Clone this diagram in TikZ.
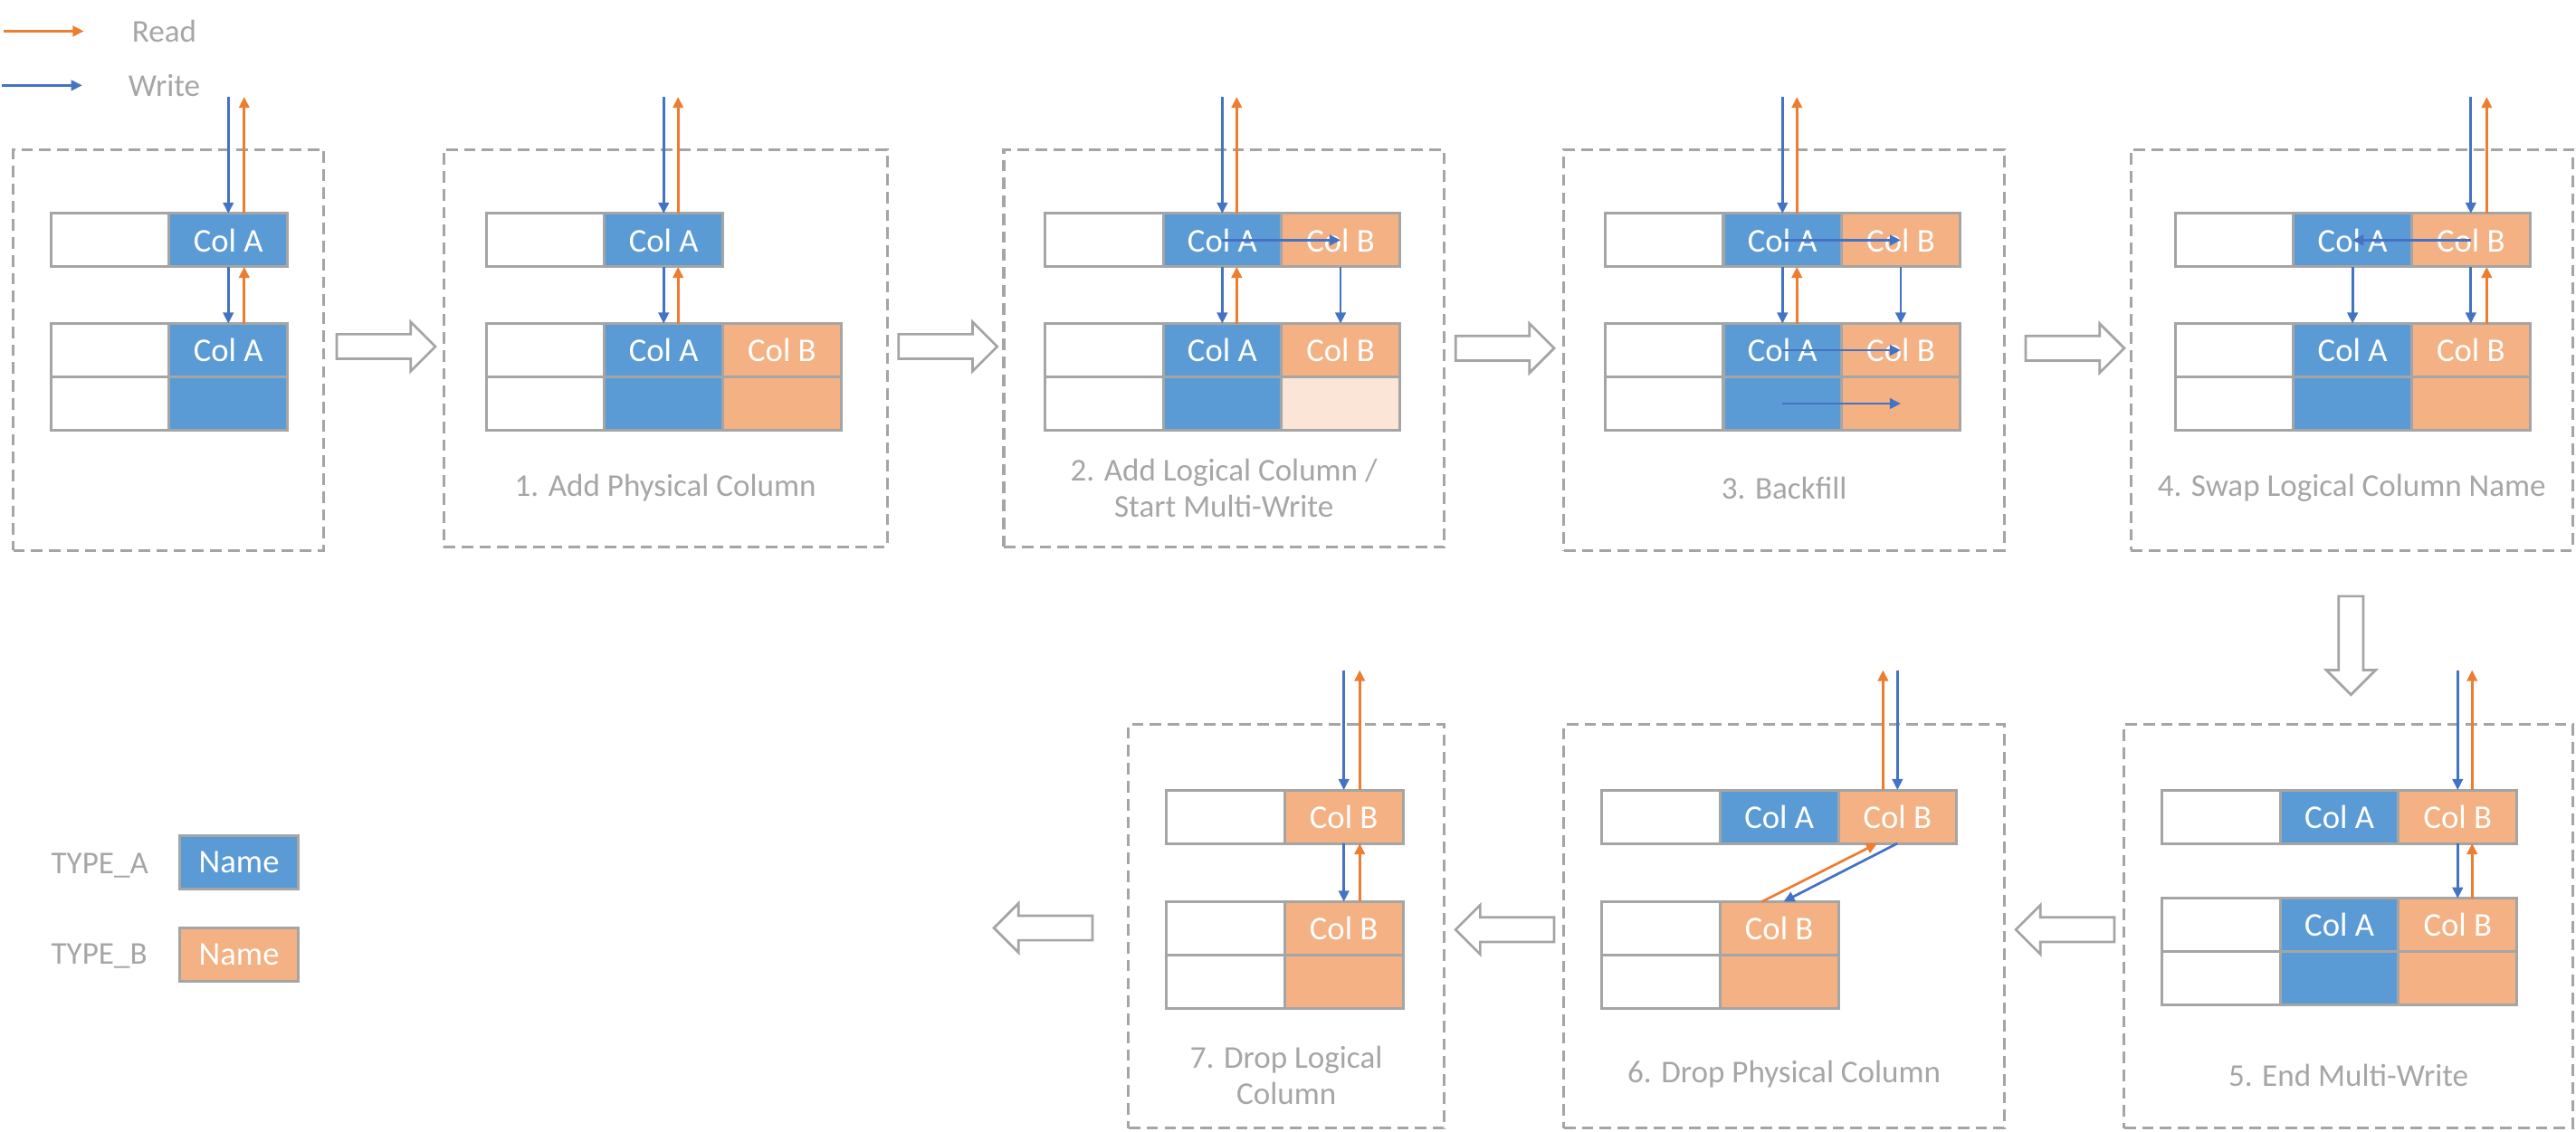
\documentclass[tikz,border=0pt]{standalone}
\usepackage{fontspec}
\setmainfont{Carlito}
\usepackage{tikz}
\usetikzlibrary{positioning, arrows.meta, calc, fit}

\definecolor{colablue}{HTML}{5B9BD5}
\definecolor{colborange}{HTML}{F4B183}
\definecolor{colblight}{HTML}{FBE5D6}
\definecolor{writeblue}{HTML}{4472C4}
\definecolor{readorange}{HTML}{ED7D31}
\definecolor{framegray}{HTML}{A5A5A5}
\definecolor{labelgray}{HTML}{A6A6A6}

\begin{document}
\begin{tikzpicture}[
        x=0.02cm, y=-0.02cm,
        cell/.style={draw=framegray, line width=0.95pt, rectangle, minimum width=1.44cm, minimum height=0.65cm, inner sep=0pt, outer sep=0pt, text=white, font=\fontsize{11.5pt}{13pt}\selectfont},
        keycell/.style={cell, fill=white},
        cola/.style={cell, fill=colablue},
        colb/.style={cell, fill=colborange},
        colbnew/.style={cell, fill=colblight},
        stagebox/.style={draw=framegray, line width=0.95pt, dash pattern=on 4pt off 2.2pt, rectangle, inner sep=0pt},
        steplabel/.style={text=labelgray, align=center, font=\fontsize{11pt}{12.5pt}\selectfont},
        wr/.style={draw=writeblue, line width=0.85pt, -{Triangle[length=3.8pt, width=3.6pt]}},
        rd/.style={draw=readorange, line width=0.85pt, -{Triangle[length=3.8pt, width=3.6pt]}},
        blockarrow/.pic={
            \draw[draw=framegray, line width=0.85pt, fill=white] (-30,-7.5) -- (15,-7.5) -- (15,-15) -- (30,0) -- (15,15) -- (15,7.5) -- (-30,7.5) -- cycle;
        }
    ]
    \useasboundingbox (0,0) rectangle (1568,689);

    % Legende
    \coordinate (rdstart) at (2,19);
    \coordinate (rdend) at (51,19);
    \coordinate (wrstart) at (1,52);
    \coordinate (wrend) at (50,52);
    \draw[rd] (rdstart) -- (rdend);
    \draw[wr] (wrstart) -- (wrend);
    \node[steplabel] (readlbl) at (100,19) {Read};
    \node[steplabel] (writelbl) at (100,52) {Write};

    \node[steplabel, anchor=west] (typea) at (25,527) {TYPE\_A};
    \node[steplabel, anchor=west] (typeb) at (25,582) {TYPE\_B};
    \node[cola] (namea) at (145.5,525) {Name};
    \node[colb] (nameb) at (145.5,581) {Name};

    % Rahmen
    \node[stagebox, fit={(8,91) (197,335)}] (st0) {};
    \node[stagebox, fit={(270,91) (540,333)}] (st1) {};
    \node[stagebox, fit={(611,91) (879,333)}] (st2) {};
    \node[stagebox, fit={(952,91) (1220,335)}] (st3) {};
    \node[stagebox, fit={(1297,91) (1566,335)}] (st4) {};
    \node[stagebox, fit={(1293,441) (1566,687)}] (st5) {};
    \node[stagebox, fit={(952,441) (1220,687)}] (st6) {};
    \node[stagebox, fit={(687,441) (879,687)}] (st7) {};

    % Schritte
    \node[steplabel] (lbl1) at (st1.center |- 0,297) {1. Add Physical Column};
    \node[steplabel] (lbl2) at (st2.center |- 0,297) {2. Add Logical Column /\\Start Multi-Write};
    \node[steplabel] (lbl3) at (st3.center |- 0,297) {3. Backfill};
    \node[steplabel] (lbl4) at (st4.center |- 0,297) {4. Swap Logical Column Name};
    \node[steplabel] (lbl5) at (st5.center |- 0,655) {5. End Multi-Write};
    \node[steplabel] (lbl6) at (st6.center |- 0,654) {6. Drop Physical Column};
    \node[steplabel] (lbl7) at (st7.center |- 0,655) {7. Drop Logical\\Column};

    % Pfeile zwischen den Schritten
    \pic at (235,211) {blockarrow};
    \pic at (577,211) {blockarrow};
    \pic at (916,212) {blockarrow};
    \pic at (1263,212) {blockarrow};
    \pic[rotate=-90] at (1431,393) {blockarrow};
    \pic[rotate=180] at (1257,566) {blockarrow};
    \pic[rotate=180] at (916,566) {blockarrow};
    \pic[rotate=180] at (635,565) {blockarrow};

    % Stufe 0
    \node[keycell, anchor=north west] (s0tk) at (31,130) {};
    \node[cola, right=0pt of s0tk] (s0ta) {Col A};
    \node[keycell, anchor=north west] (s0bk) at (31,197) {};
    \node[cola, right=0pt of s0bk] (s0ba) {Col A};
    \node[keycell, below=0pt of s0bk] (s0rk) {};
    \node[cola, below=0pt of s0ba] (s0ra) {};
    \coordinate[above=1.42cm of s0ta] (s0in);
    \draw[wr] (s0in) -- (s0ta.north);
    \draw[rd] ([xshift=5.5pt]s0ta.north) -- ([xshift=5.5pt]s0in);
    \draw[wr] (s0ta.south) -- (s0ba.north);
    \draw[rd] ([xshift=5.5pt]s0ba.north) -- ([xshift=5.5pt]s0ta.south);

    % Stufe 1
    \node[keycell, anchor=north west] (s1tk) at (296,130) {};
    \node[cola, right=0pt of s1tk] (s1ta) {Col A};
    \node[keycell, anchor=north west] (s1bk) at (296,197) {};
    \node[cola, right=0pt of s1bk] (s1ba) {Col A};
    \node[colb, right=0pt of s1ba] (s1bb) {Col B};
    \node[keycell, below=0pt of s1bk] (s1rk) {};
    \node[cola, below=0pt of s1ba] (s1ra) {};
    \node[colb, below=0pt of s1bb] (s1rb) {};
    \coordinate[above=1.42cm of s1ta] (s1in);
    \draw[wr] (s1in) -- (s1ta.north);
    \draw[rd] ([xshift=5pt]s1ta.north) -- ([xshift=5pt]s1in);
    \draw[wr] (s1ta.south) -- (s1ba.north);
    \draw[rd] ([xshift=5pt]s1ba.north) -- ([xshift=5pt]s1ta.south);

    % Stufe 2
    \node[keycell, anchor=north west] (s2tk) at (636,130) {};
    \node[cola, right=0pt of s2tk] (s2ta) {Col A};
    \node[colb, right=0pt of s2ta] (s2tb) {Col B};
    \node[keycell, anchor=north west] (s2bk) at (636,197) {};
    \node[cola, right=0pt of s2bk] (s2ba) {Col A};
    \node[colb, right=0pt of s2ba] (s2bb) {Col B};
    \node[keycell, below=0pt of s2bk] (s2rk) {};
    \node[cola, below=0pt of s2ba] (s2ra) {};
    \node[colbnew, below=0pt of s2bb] (s2rb) {};
    \coordinate[above=1.42cm of s2ta] (s2in);
    \draw[wr] (s2in) -- (s2ta.north);
    \draw[rd] ([xshift=5pt]s2ta.north) -- ([xshift=5pt]s2in);
    \draw[wr] (s2ta.center) -- (s2tb.center);
    \draw[wr] (s2ta.south) -- (s2ba.north);
    \draw[rd] ([xshift=5pt]s2ba.north) -- ([xshift=5pt]s2ta.south);
    \draw[wr] (s2tb.south) -- (s2bb.north);

    % Stufe 3
    \node[keycell, anchor=north west] (s3tk) at (977,130) {};
    \node[cola, right=0pt of s3tk] (s3ta) {Col A};
    \node[colb, right=0pt of s3ta] (s3tb) {Col B};
    \node[keycell, anchor=north west] (s3bk) at (977,197) {};
    \node[cola, right=0pt of s3bk] (s3ba) {Col A};
    \node[colb, right=0pt of s3ba] (s3bb) {Col B};
    \node[keycell, below=0pt of s3bk] (s3rk) {};
    \node[cola, below=0pt of s3ba] (s3ra) {};
    \node[colb, below=0pt of s3bb] (s3rb) {};
    \coordinate[above=1.42cm of s3ta] (s3in);
    \draw[wr] (s3in) -- (s3ta.north);
    \draw[rd] ([xshift=5pt]s3ta.north) -- ([xshift=5pt]s3in);
    \draw[wr] (s3ta.center) -- (s3tb.center);
    \draw[wr] (s3ba.center) -- (s3bb.center);
    \draw[wr] (s3ra.center) -- (s3rb.center);
    \draw[wr] (s3ta.south) -- (s3ba.north);
    \draw[rd] ([xshift=5pt]s3ba.north) -- ([xshift=5pt]s3ta.south);
    \draw[wr] (s3tb.south) -- (s3bb.north);

    % Stufe 4
    \node[keycell, anchor=north west] (s4tk) at (1324,130) {};
    \node[cola, right=0pt of s4tk] (s4ta) {Col A};
    \node[colb, right=0pt of s4ta] (s4tb) {Col B};
    \node[keycell, anchor=north west] (s4bk) at (1324,197) {};
    \node[cola, right=0pt of s4bk] (s4ba) {Col A};
    \node[colb, right=0pt of s4ba] (s4bb) {Col B};
    \node[keycell, below=0pt of s4bk] (s4rk) {};
    \node[cola, below=0pt of s4ba] (s4ra) {};
    \node[colb, below=0pt of s4bb] (s4rb) {};
    \coordinate[above=1.42cm of s4tb] (s4in);
    \draw[wr] (s4in) -- (s4tb.north);
    \draw[rd] ([xshift=5.5pt]s4tb.north) -- ([xshift=5.5pt]s4in);
    \draw[wr] (s4tb.center) -- (s4ta.center);
    \draw[wr] (s4ta.south) -- (s4ba.north);
    \draw[wr] (s4tb.south) -- (s4bb.north);
    \draw[rd] ([xshift=5.5pt]s4bb.north) -- ([xshift=5.5pt]s4tb.south);

    % Stufe 5
    \node[keycell, anchor=north west] (s5tk) at (1316,481) {};
    \node[cola, right=0pt of s5tk] (s5ta) {Col A};
    \node[colb, right=0pt of s5ta] (s5tb) {Col B};
    \node[keycell, anchor=north west] (s5bk) at (1316,547) {};
    \node[cola, right=0pt of s5bk] (s5ba) {Col A};
    \node[colb, right=0pt of s5ba] (s5bb) {Col B};
    \node[keycell, below=0pt of s5bk] (s5rk) {};
    \node[cola, below=0pt of s5ba] (s5ra) {};
    \node[colb, below=0pt of s5bb] (s5rb) {};
    \coordinate[above=1.46cm of s5tb] (s5in);
    \draw[wr] (s5in) -- (s5tb.north);
    \draw[rd] ([xshift=5pt]s5tb.north) -- ([xshift=5pt]s5in);
    \draw[wr] (s5tb.south) -- (s5bb.north);
    \draw[rd] ([xshift=5pt]s5bb.north) -- ([xshift=5pt]s5tb.south);

    % Stufe 6
    \node[keycell, anchor=north west] (s6tk) at (975,481) {};
    \node[cola, right=0pt of s6tk] (s6ta) {Col A};
    \node[colb, right=0pt of s6ta] (s6tb) {Col B};
    \node[keycell, anchor=north west] (s6bk) at (975,549) {};
    \node[colb, right=0pt of s6bk] (s6bb) {Col B};
    \node[keycell, below=0pt of s6bk] (s6rk) {};
    \node[colb, below=0pt of s6bb] (s6rb) {};
    \coordinate[above=1.46cm of s6tb] (s6in);
    \draw[wr] (s6in) -- (s6tb.north);
    \draw[rd] ([xshift=-5pt]s6tb.north) -- ([xshift=-5pt]s6in);
    \draw[wr] (s6tb.south) -- ([xshift=1.5pt]s6bb.north);
    \draw[rd] ([xshift=-6pt]s6bb.north) -- ([xshift=-7pt]s6tb.south);

    % Stufe 7
    \node[keycell, anchor=north west] (s7tk) at (710,481) {};
    \node[colb, right=0pt of s7tk] (s7tb) {Col B};
    \node[keycell, anchor=north west] (s7bk) at (710,549) {};
    \node[colb, right=0pt of s7bk] (s7bb) {Col B};
    \node[keycell, below=0pt of s7bk] (s7rk) {};
    \node[colb, below=0pt of s7bb] (s7rb) {};
    \coordinate[above=1.46cm of s7tb] (s7in);
    \draw[wr] (s7in) -- (s7tb.north);
    \draw[rd] ([xshift=5.5pt]s7tb.north) -- ([xshift=5.5pt]s7in);
    \draw[wr] (s7tb.south) -- (s7bb.north);
    \draw[rd] ([xshift=5.5pt]s7bb.north) -- ([xshift=5.5pt]s7tb.south);

\end{tikzpicture}
\end{document}
